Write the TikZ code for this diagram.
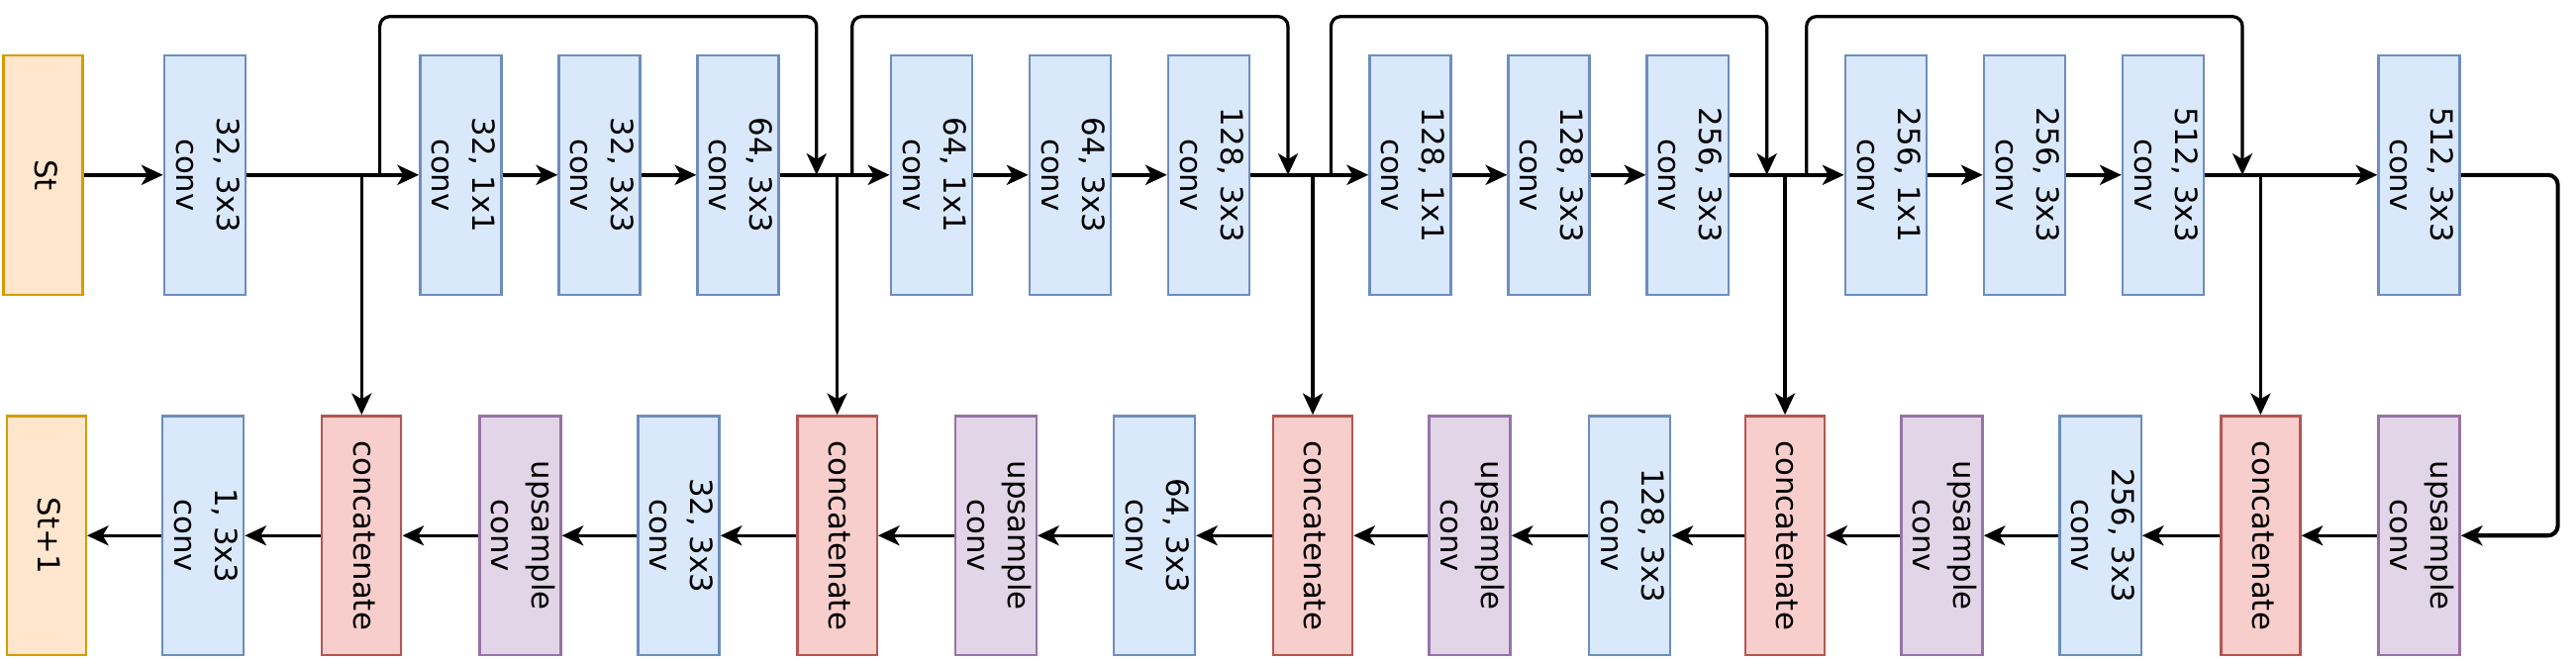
\documentclass[tikz,border=0pt]{standalone}
\usepackage{fontspec}
\setmainfont{DejaVu Sans}
\usetikzlibrary{arrows.meta}
\definecolor{ioFill}{HTML}{FFE6CC}\definecolor{ioLine}{HTML}{D79B00}
\definecolor{cvFill}{HTML}{DAE8FC}\definecolor{cvLine}{HTML}{6C8EBF}
\definecolor{ctFill}{HTML}{F8CECC}\definecolor{ctLine}{HTML}{B85450}
\definecolor{upFill}{HTML}{E1D5E7}\definecolor{upLine}{HTML}{9673A6}
\newcommand{\vlab}[1]{\rotatebox{-90}{\begin{tabular}{@{}c@{}}#1\end{tabular}}}

\begin{document}
\begin{tikzpicture}[x=0.02cm,y=-0.02cm,font=\fontsize{10.5}{14}\selectfont,
    blk/.style={draw,line width=0.8pt,minimum width=0.96cm,minimum height=2.9cm,inner sep=0},
    io/.style={blk,fill=ioFill,draw=ioLine},
    conv/.style={blk,fill=cvFill,draw=cvLine},
    cat/.style={blk,fill=ctFill,draw=ctLine},
    up/.style={blk,fill=upFill,draw=upLine},
    fwd/.style={-{Stealth[length=0.26cm,width=0.24cm,inset=0.07cm]},line width=1.4pt},
    back/.style={fwd,line width=1.1pt},
    skip/.style={fwd,line width=1.1pt,rounded corners=0.12cm}]
        \useasboundingbox (0,0) rectangle (1560,399.3);
        % encoder
        \node[io] (st) at (26,106) {\vlab{St}};
        \node[conv] (c0) at (124,106) {\vlab{32, 3x3\\conv}};
        \node[conv] (r1a) at (279,106) {\vlab{32, 1x1\\conv}};
        \node[conv] (r1b) at (363,106) {\vlab{32, 3x3\\conv}};
        \node[conv] (r1c) at (447,106) {\vlab{64, 3x3\\conv}};
        \node[conv] (r2a) at (564,106) {\vlab{64, 1x1\\conv}};
        \node[conv] (r2b) at (648,106) {\vlab{64, 3x3\\conv}};
        \node[conv] (r2c) at (732,106) {\vlab{128, 3x3\\conv}};
        \node[conv] (r3a) at (854,106) {\vlab{128, 1x1\\conv}};
        \node[conv] (r3b) at (938,106) {\vlab{128, 3x3\\conv}};
        \node[conv] (r3c) at (1022,106) {\vlab{256, 3x3\\conv}};
        \node[conv] (r4a) at (1142,106) {\vlab{256, 1x1\\conv}};
        \node[conv] (r4b) at (1226,106) {\vlab{256, 3x3\\conv}};
        \node[conv] (r4c) at (1310,106) {\vlab{512, 3x3\\conv}};
        \node[conv] (c5) at (1465,106) {\vlab{512, 3x3\\conv}};
        % decoder
        \node[io] (out) at (28,324.5) {\vlab{St+1}};
        \node[conv] (d0) at (123,324.5) {\vlab{1, 3x3\\conv}};
        \node[cat] (k1) at (219,324.5) {\vlab{concatenate}};
        \node[up] (u1) at (315,324.5) {\vlab{upsample\\conv}};
        \node[conv] (d1) at (411,324.5) {\vlab{32, 3x3\\conv}};
        \node[cat] (k2) at (507,324.5) {\vlab{concatenate}};
        \node[up] (u2) at (603,324.5) {\vlab{upsample\\conv}};
        \node[conv] (d2) at (699,324.5) {\vlab{64, 3x3\\conv}};
        \node[cat] (k3) at (795,324.5) {\vlab{concatenate}};
        \node[up] (u3) at (890,324.5) {\vlab{upsample\\conv}};
        \node[conv] (d3) at (987,324.5) {\vlab{128, 3x3\\conv}};
        \node[cat] (k4) at (1081,324.5) {\vlab{concatenate}};
        \node[up] (u4) at (1176,324.5) {\vlab{upsample\\conv}};
        \node[conv] (d4) at (1272,324.5) {\vlab{256, 3x3\\conv}};
        \node[cat] (k5) at (1369,324.5) {\vlab{concatenate}};
        \node[up] (u5) at (1465,324.5) {\vlab{upsample\\conv}};
        % points on the main line
        \coordinate (b1) at (k1 |- c0);
        \coordinate (b2) at (k2 |- c0);
        \coordinate (b3) at (k3 |- c0);
        \coordinate (b4) at (k4 |- c0);
        \coordinate (b5) at (k5 |- c0);
        \coordinate (l1s) at (230,106); \coordinate (l1e) at (494.5,106);
        \coordinate (l2s) at (516,106); \coordinate (l2e) at (780,106);
        \coordinate (l3s) at (806,106); \coordinate (l3e) at (1070,106);
        \coordinate (l4s) at (1094,106); \coordinate (l4e) at (1358,106);
        \coordinate (w) at (1549,215);
        % forward path
        \draw[fwd] (st) -- (c0);
        \draw[fwd] (c0) -- (r1a);
        \draw[fwd] (r1a) -- (r1b);
        \draw[fwd] (r1b) -- (r1c);
        \draw[fwd] (r1c) -- (r2a);
        \draw[fwd] (r2a) -- (r2b);
        \draw[fwd] (r2b) -- (r2c);
        \draw[fwd] (r2c) -- (r3a);
        \draw[fwd] (r3a) -- (r3b);
        \draw[fwd] (r3b) -- (r3c);
        \draw[fwd] (r3c) -- (r4a);
        \draw[fwd] (r4a) -- (r4b);
        \draw[fwd] (r4b) -- (r4c);
        \draw[fwd] (r4c) -- (c5);
        \draw[fwd,rounded corners=0.12cm] (c5) -| (w) |- (u5);
        % residual loops
        \draw[skip] (l1s) -- ++(0,-96) -| (l1e);
        \draw[skip] (l2s) -- ++(0,-96) -| (l2e);
        \draw[skip] (l3s) -- ++(0,-96) -| (l3e);
        \draw[skip] (l4s) -- ++(0,-96) -| (l4e);
        % skip connections
        \draw[skip] (b1) -- (k1);
        \draw[skip] (b2) -- (k2);
        \draw[skip] (b3) -- (k3);
        \draw[skip] (b4) -- (k4);
        \draw[skip] (b5) -- (k5);
        % decoder path
        \draw[back] (u5) -- (k5);
        \draw[back] (k5) -- (d4);
        \draw[back] (d4) -- (u4);
        \draw[back] (u4) -- (k4);
        \draw[back] (k4) -- (d3);
        \draw[back] (d3) -- (u3);
        \draw[back] (u3) -- (k3);
        \draw[back] (k3) -- (d2);
        \draw[back] (d2) -- (u2);
        \draw[back] (u2) -- (k2);
        \draw[back] (k2) -- (d1);
        \draw[back] (d1) -- (u1);
        \draw[back] (u1) -- (k1);
        \draw[back] (k1) -- (d0);
        \draw[back] (d0) -- (out);
      \end{tikzpicture}
\end{document}
